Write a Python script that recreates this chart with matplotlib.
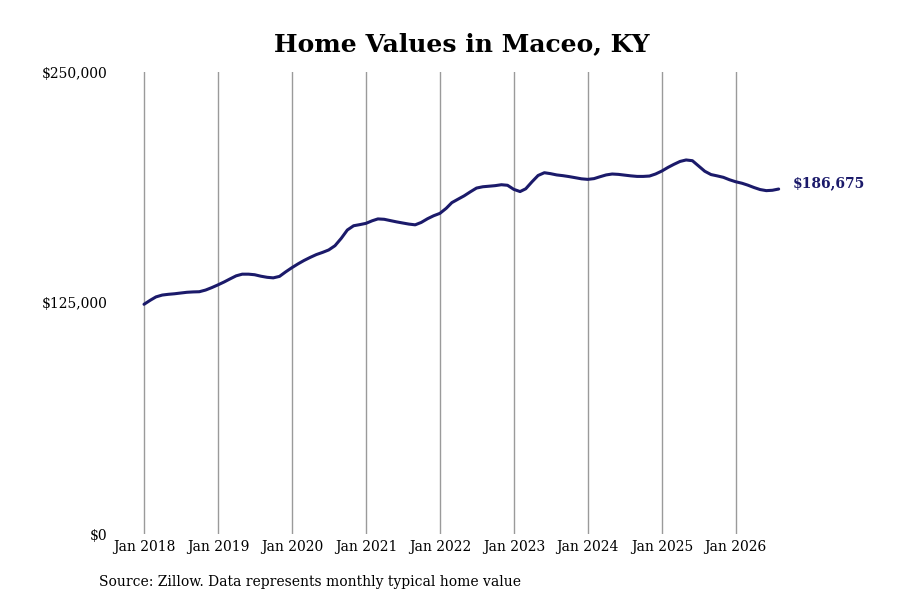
import numpy as np
import pandas as pd
import matplotlib
matplotlib.use("Agg")
import matplotlib.pyplot as plt
import matplotlib.dates as mdates
from matplotlib.ticker import FuncFormatter

# typical home value, monthly, in thousands of dollars
values_2018 = [124.3, 126.5, 128.3, 129.3, 129.7, 130.0, 130.4, 130.8, 131.0, 131.1, 132.0, 133.3]
values_2019 = [134.8, 136.4, 138.0, 139.7, 140.6, 140.6, 140.3, 139.5, 138.9, 138.6, 139.4, 141.8]
values_2020 = [144.1, 146.2, 148.0, 149.7, 151.2, 152.4, 153.7, 156.0, 160.0, 164.5, 166.8, 167.4]
values_2021 = [168.1, 169.5, 170.5, 170.3, 169.6, 168.9, 168.3, 167.7, 167.3, 168.6, 170.6, 172.2]
values_2022 = [173.5, 176.2, 179.3, 181.2, 183.0, 185.2, 187.2, 187.9, 188.2, 188.5, 189.0, 188.7]
values_2023 = [186.5, 185.3, 186.8, 190.6, 194.0, 195.5, 195.0, 194.3, 193.9, 193.4, 192.8, 192.2]
values_2024 = [191.9, 192.3, 193.3, 194.3, 194.8, 194.6, 194.2, 193.8, 193.5, 193.5, 193.7, 194.8]
values_2025 = [196.4, 198.4, 200.0, 201.6, 202.4, 202.0, 199.2, 196.3, 194.5, 193.8, 193.0, 191.7]
values_2026 = [190.6, 189.8, 188.8, 187.5, 186.4, 185.8, 186.0, 186.675]

values = np.array(values_2018 + values_2019 + values_2020 + values_2021 + values_2022
                  + values_2023 + values_2024 + values_2025 + values_2026) * 1000
dates = pd.date_range("2018-01-01", periods=len(values), freq="MS")

y_ticks = [0, 125000, 250000]
x_ticks = pd.date_range("2018-01-01", "2026-01-01", freq="YS")

plt.rcParams['font.family'] = ['DejaVu Serif']

fig = plt.figure(figsize=(9, 6), dpi=100)
ax = fig.add_axes([110 / 900, 66 / 600, 680 / 900, 462 / 600])

navy = '#1b1a6a'
ax.plot(dates, values, color=navy, linewidth=2.2, solid_capstyle='round')

ax.set_ylim(0, 250000)
ax.set_yticks(y_ticks)
ax.yaxis.set_major_formatter(FuncFormatter(lambda v, p: f"${v:,.0f}"))
ax.set_xticks(x_ticks)
ax.xaxis.set_major_formatter(mdates.DateFormatter("Jan %Y"))
ax.set_xlim(pd.Timestamp("2017-07-17"), pd.Timestamp("2026-09-26"))

ax.grid(axis='x', color='#9a9a9a', linewidth=1)
ax.grid(axis='y', visible=False)
for s in ax.spines.values():
    s.set_visible(False)
ax.tick_params(axis='both', length=0, labelsize=10)
ax.tick_params(axis='y', pad=2)
ax.tick_params(axis='x', pad=4)

last = values[-1]
ax.annotate(f"${last:,.0f}", xy=(dates[-1], last), xytext=(10, 4),
            textcoords='offset points', va='center', ha='left',
            fontsize=10, fontweight='bold', color=navy)

fig.text(0.513, 0.927, "Home Values in Maceo, KY", ha='center', va='center',
         fontsize=18, fontweight='bold')
fig.text(99 / 900, 1 - 582 / 600, "Source: Zillow. Data represents monthly typical home value",
         ha='left', va='center', fontsize=10)

fig.savefig("out.png", dpi=100)
